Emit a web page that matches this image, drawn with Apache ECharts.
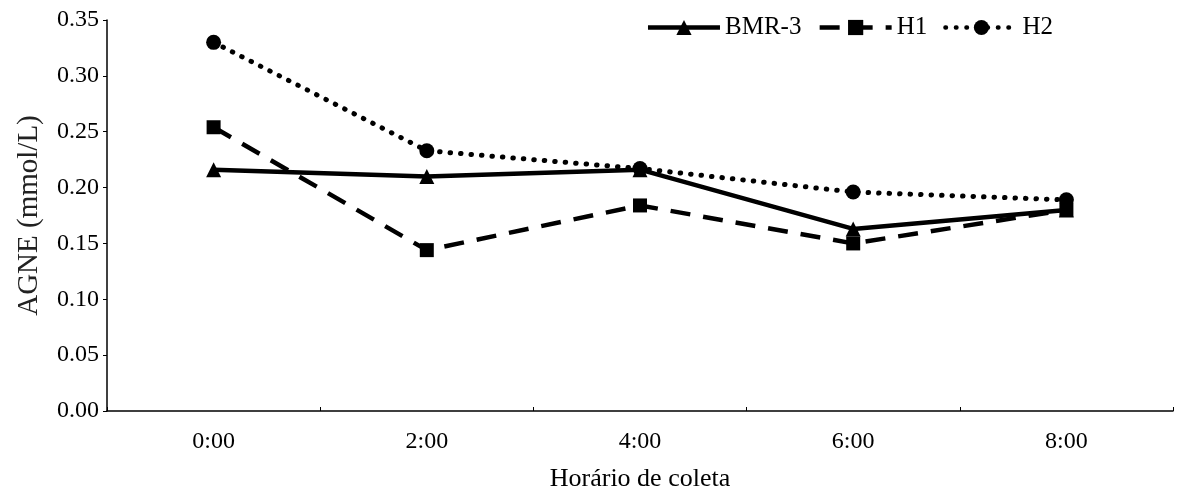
<!DOCTYPE html>
<html>
<head>
<meta charset="utf-8">
<script src="https://cdn.jsdelivr.net/npm/echarts@6/dist/echarts.min.js"></script>
<style>
  html, body { margin: 0; padding: 0; background: #fff; }
  #chart { width: 1186px; height: 492px; }
</style>
</head>
<body>
<div id="chart"></div>
<script>
// data
const categories = ['0:00', '2:00', '4:00', '6:00', '8:00']
const bmr3 = [0.216, 0.210, 0.216, 0.163, 0.180]
const h1 = [0.254, 0.144, 0.184, 0.150, 0.180]
const h2 = [0.330, 0.233, 0.217, 0.196, 0.189]

const font = '"Liberation Serif", "Times New Roman", serif'

const myChart = echarts.init(document.getElementById('chart'))

const options = {
  animation: false,
  textStyle: { fontFamily: font, color: '#000' },
  legend: {
    top: 10,
    right: 128,
    itemWidth: 72,
    itemHeight: 19,
    itemGap: 16,
    lineStyle: { width: 4.5 },
    textStyle: { fontFamily: font, fontSize: 25, color: '#000' },
    data: ['BMR-3', 'H1', 'H2']
  },
  grid: { left: 107, right: 13, top: 20, bottom: 81, outerBoundsMode: 'none' },
  xAxis: {
    type: 'category',
    data: categories,
    boundaryGap: true,
    name: 'Horário de coleta',
    nameLocation: 'middle',
    nameGap: 55,
    nameTextStyle: { fontFamily: font, fontSize: 26, color: '#000' },
    axisLine: { lineStyle: { color: '#000', width: 1.5 } },
    axisTick: { show: true, inside: true, length: 4, lineStyle: { color: '#000' } },
    axisLabel: { fontFamily: font, fontSize: 24, color: '#000', margin: 19 }
  },
  yAxis: {
    type: 'value',
    min: 0,
    max: 0.35,
    interval: 0.05,
    name: 'AGNE (mmol/L)',
    nameLocation: 'middle',
    nameGap: 63,
    nameTextStyle: { fontFamily: font, fontSize: 29, color: '#222' },
    splitLine: { show: false },
    axisLine: { show: true, lineStyle: { color: '#000', width: 1.5 } },
    axisTick: { show: true, length: 4, lineStyle: { color: '#000' } },
    axisLabel: {
      fontFamily: font, fontSize: 24, color: '#000', margin: 8,
      formatter: (v) => v.toFixed(2)
    }
  },
  series: [
    {
      name: 'BMR-3',
      type: 'line',
      data: bmr3,
      symbol: 'triangle',
      symbolSize: 15,
      itemStyle: { color: '#000' },
      lineStyle: { color: '#000', width: 4.5, type: 'solid' }
    },
    {
      name: 'H1',
      type: 'line',
      data: h1,
      symbol: 'rect',
      symbolSize: 14,
      itemStyle: { color: '#000' },
      lineStyle: { color: '#000', width: 4.5, type: [20, 13] }
    },
    {
      name: 'H2',
      type: 'line',
      data: h2,
      symbol: 'circle',
      symbolSize: 15,
      itemStyle: { color: '#000' },
      lineStyle: { color: '#000', width: 5, type: [0.5, 10], cap: 'round' }
    }
  ]
}

myChart.setOption(options)
</script>
</body>
</html>
